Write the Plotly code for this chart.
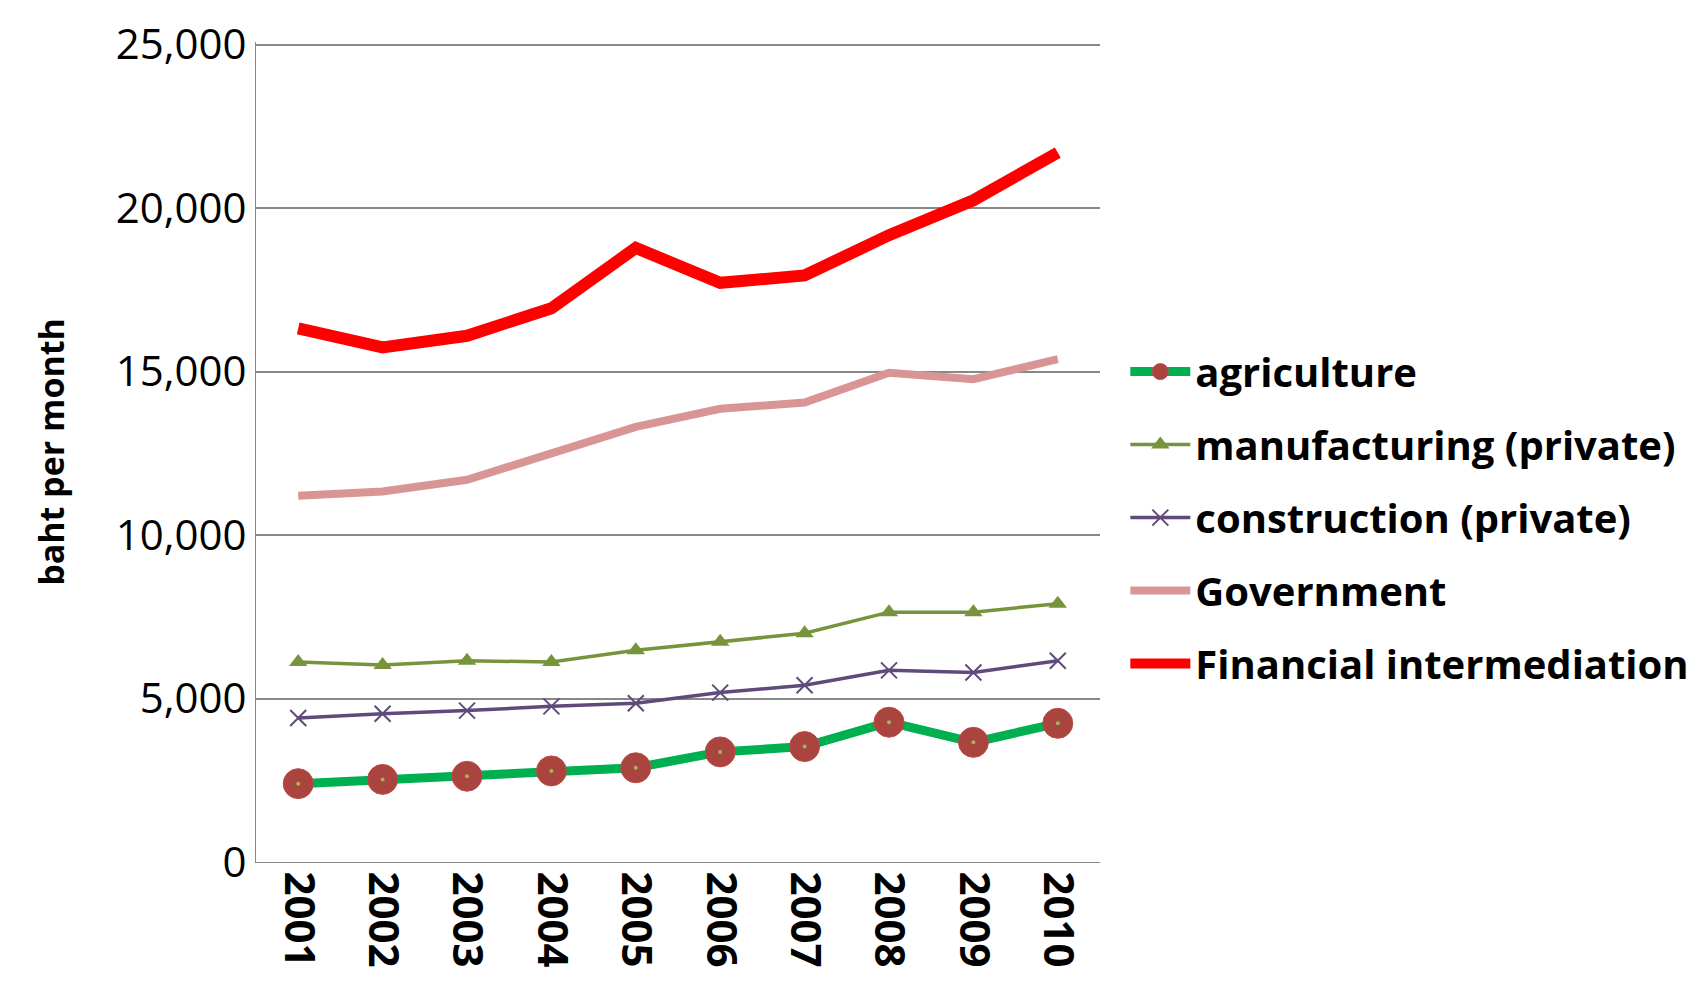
import plotly.graph_objects as go

years = ["2001","2002","2003","2004","2005","2006","2007","2008","2009","2010"]
agriculture = [2396,2526,2623,2785,2882,3368,3530,4275,3660,4242]
manufacturing = [6120,6023,6153,6120,6477,6736,6995,7642,7642,7901]
construction = [4404,4534,4631,4760,4858,5181,5408,5862,5797,6153]
government = [11205,11334,11690,12468,13309,13860,14054,14961,14767,15382]
financial = [16321,15738,16094,16936,18782,17714,17940,19171,20240,21697]
y_ticks = [0, 5000, 10000, 15000, 20000, 25000]

fig = go.Figure()
fig.add_trace(go.Scatter(x=years, y=agriculture, name="agriculture", mode="lines+markers", legendgroup="a",
    line=dict(color="#00b050", width=9),
    marker=dict(size=30, color="#a9443f", line=dict(color="#be4b48", width=1))))
fig.add_trace(go.Scatter(x=years, y=agriculture, showlegend=False, mode="markers", legendgroup="a",
    marker=dict(size=4, color="#9bbb59"), hoverinfo="skip"))
fig.add_trace(go.Scatter(x=years, y=manufacturing, name="manufacturing (private)", mode="lines+markers", legendgroup="b",
    line=dict(color="#77933c", width=3.5), marker=dict(symbol="triangle-up", size=16, color="#77933c")))
fig.add_trace(go.Scatter(x=years, y=construction, name="construction (private)", mode="lines+markers", legendgroup="c",
    line=dict(color="#604a7b", width=3.5), marker=dict(symbol="x-thin", size=16, line=dict(color="#604a7b", width=2))))
fig.add_trace(go.Scatter(x=years, y=government, name="Government", mode="lines", legendgroup="d",
    line=dict(color="#d99594", width=8)))
fig.add_trace(go.Scatter(x=years, y=financial, name="Financial intermediation", mode="lines", legendgroup="e",
    line=dict(color="#ff0000", width=12)))

fig.update_layout(
    width=1698, height=1007, paper_bgcolor="white", plot_bgcolor="white",
    margin=dict(l=248, r=597, t=34, b=153),
    font=dict(family="Open Sans", color="black"),
    legend=dict(x=1.03, y=0.42, xanchor="left", yanchor="middle",
                font=dict(size=40, family="Open Sans", weight="bold"), tracegroupgap=18, itemwidth=60),
    xaxis=dict(tickangle=90, tickfont=dict(size=42, weight="bold"), showline=True, linecolor="#888",
               showgrid=False, ticks="", range=[-0.5, 9.5], automargin=False),
    yaxis=dict(range=[0, 25080], tickvals=y_ticks, tickformat=",", tickfont=dict(size=42),
               ticklabeloverflow="allow", automargin=False,
               gridcolor="#888", gridwidth=1.5, showline=True, linecolor="#888",
               title=dict(text="baht per month", font=dict(size=34, weight="bold"), standoff=40)),
)
fig.write_html("out.html")
